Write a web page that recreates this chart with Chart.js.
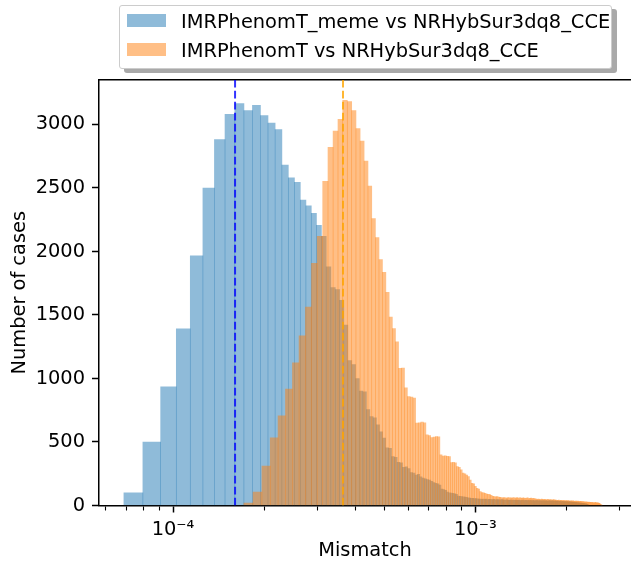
<!DOCTYPE html>
<html>
<head>
<meta charset="utf-8">
<script src="https://cdn.jsdelivr.net/npm/chart.js@4.4.0/dist/chart.umd.min.js"></script>
<style>
    html, body { margin: 0; padding: 0; background: #fff; }
    #wrap { position: relative; width: 631px; height: 565px; }
    #legend {
        position: absolute; left: 119px; top: 5px; width: 491px; height: 62px;
        border: 1px solid #cccccc; border-radius: 3px; background: #fff;
        box-shadow: 5px 4px 0 #a9a9a9;
        font-family: "DejaVu Sans"; font-size: 19.4px; color: #000;
    }
    .swatch { position: absolute; left: 7px; width: 39px; height: 13px; }
    .text { position: absolute; left: 61px; line-height: 24px; white-space: nowrap; }
</style>
</head>
<body>
<div id="wrap">
    <canvas id="chartMismatch" width="631" height="565"></canvas>
    <div id="legend"></div>
</div>
<script>
// histogram bins (linear bins, shown on a log axis)
const blueStart = 6.82e-5;
const blueWidth = 1.15e-5;
const blueCounts = [
    100, 500, 935, 1390, 1965, 2500, 2880, 3080, 3165, 3110,
    3150, 3070, 3010, 2960, 2680, 2580, 2545, 2405, 2360, 2300,
    2205, 2120, 1880, 1715, 1700, 1615, 1420, 1140, 1110, 1000,
    900, 895, 755, 700, 690, 635, 580, 530, 455, 450,
    385, 380, 340, 335, 300, 305, 290, 260, 255, 240,
    245, 225, 215, 210, 205, 200, 190, 180, 175, 170,
    160, 130, 125, 120, 105, 100, 98, 95, 92, 88,
    75, 72, 70, 68, 66, 64, 60, 58, 57, 56,
    55, 54, 52, 50, 51, 49, 50, 48, 50, 47,
    49, 48, 46, 47, 48, 45, 46, 47, 44, 45,
    46, 44, 43, 42, 44, 43, 41, 42, 43, 40,
    42, 41, 43, 40, 41, 42, 39, 41, 40, 42,
    39, 40, 41, 38, 40, 39, 41, 38, 39, 40,
    37, 39, 38, 40, 37, 38, 39, 36, 38, 37,
    39, 36, 37, 38, 35, 37, 36, 38, 35, 36,
    37, 36, 35, 34, 36, 33, 34, 35, 32, 33,
    34, 31, 32, 33, 30, 31, 32, 29, 30, 31,
    28, 29, 30, 27, 28, 26, 27, 25, 26, 24,
    25, 23, 24, 22, 23, 21, 22, 20, 19, 20,
    18, 17, 18, 16, 15, 14, 13, 12, 10, 8
];

const orangeStart = 1.712e-4;
const orangeWidth = 1.287e-5;
const orangeCounts = [
    20, 106, 311, 532, 706, 916, 1124, 1336, 1563, 1907,
    2120, 2553, 2819, 2948, 3040, 3189, 3181, 3110, 2968, 2869,
    2711, 2514, 2258, 2109, 1936, 1836, 1678, 1484, 1392, 1289,
    1079, 1082, 926, 858, 853, 845, 648, 650, 656, 650,
    556, 550, 535, 538, 543, 540, 398, 390, 392, 388,
    385, 337, 340, 335, 306, 300, 280, 255, 250, 240,
    227, 200, 175, 170, 150, 136, 130, 110, 101, 100,
    95, 90, 88, 86, 80, 72, 70, 68, 70, 66,
    64, 62, 60, 63, 61, 59, 62, 60, 61, 58,
    63, 60, 59, 62, 58, 60, 61, 57, 60, 59,
    56, 58, 60, 55, 57, 59, 54, 56, 55, 52,
    50, 48, 51, 49, 47, 50, 48, 46, 49, 47,
    45, 48, 46, 44, 47, 45, 43, 46, 44, 42,
    43, 41, 40, 42, 39, 40, 41, 38, 39, 40,
    37, 39, 38, 36, 38, 37, 35, 37, 36, 34,
    36, 35, 33, 35, 34, 32, 34, 33, 31, 33,
    32, 30, 31, 30, 28, 29, 27, 28, 26, 27,
    25, 26, 25, 24, 25, 23, 24, 22, 23, 22,
    24, 23, 22, 22, 21, 20, 18, 15, 10, 5, 2
];

const seriesLabels = [
    "IMRPhenomT_meme vs NRHybSur3dq8_CCE",
    "IMRPhenomT vs NRHybSur3dq8_CCE",
];
const seriesColors = ["rgba(31, 119, 180, 0.5)", "rgba(255, 127, 14, 0.5)"];

// dashed vertical markers
const blueMedian = 1.604e-4;
const orangeMedian = 3.65e-4;

// axes
const xMin = 5.69e-5;
const xMax = 3.273e-3;
const yMax = 3350;
const yTicks = [0, 500, 1000, 1500, 2000, 2500, 3000];
const xMajorTicks = [1e-4, 1e-3];
const xMajorLabels = ["10\u207B\u2074", "10\u207B\u00B3"];
const xMinorTicks = [6e-5, 7e-5, 8e-5, 9e-5, 2e-4, 3e-4, 4e-4, 5e-4, 6e-4, 7e-4, 8e-4, 9e-4, 2e-3, 3e-3];

function binPoints(start, width, counts) {
    return counts.map((c, i) => ({ x: start + (i + 0.5) * width, y: c }));
}

function isMajor(v) {
    return xMajorTicks.indexOf(v) !== -1;
}

document.addEventListener("DOMContentLoaded", function () {
    Chart.defaults.font.family = "DejaVu Sans";
    Chart.defaults.font.size = 19.4;
    Chart.defaults.color = "#000";

    // same axis + same stack key: the two histograms overlap at full bin width
    const barStyle = {
        type: "bar",
        stack: "hist",
        borderWidth: 0,
        barThickness: "flex",
        categoryPercentage: 1,
        barPercentage: 1,
        xAxisID: "x",
        yAxisID: "y",
    };

    new Chart(document.getElementById("chartMismatch"), {
        type: "bar",
        data: {
            datasets: [
                Object.assign({}, barStyle, {
                    label: seriesLabels[0],
                    data: binPoints(blueStart, blueWidth, blueCounts),
                    backgroundColor: seriesColors[0],
                    order: 2,
                }),
                Object.assign({}, barStyle, {
                    label: seriesLabels[1],
                    data: binPoints(orangeStart, orangeWidth, orangeCounts),
                    backgroundColor: seriesColors[1],
                    order: 1,
                }),
                {
                    type: "line",
                    data: [{ x: blueMedian, y: 0 }, { x: blueMedian, y: yMax }],
                    borderColor: "rgba(0, 0, 255, 0.8)",
                    borderWidth: 2,
                    borderDash: [7.7, 3.3],
                    pointRadius: 0,
                    xAxisID: "x",
                    yAxisID: "y",
                    order: 0,
                },
                {
                    type: "line",
                    data: [{ x: orangeMedian, y: 0 }, { x: orangeMedian, y: yMax }],
                    borderColor: "rgba(255, 165, 0, 0.8)",
                    borderWidth: 2,
                    borderDash: [7.7, 3.3],
                    pointRadius: 0,
                    xAxisID: "x",
                    yAxisID: "y",
                    order: 0,
                },
            ],
        },
        options: {
            responsive: false,
            animation: false,
            devicePixelRatio: 1,
            events: [],
            layout: { padding: { top: 80, left: 0, right: 0, bottom: 0 } },
            plugins: {
                legend: { display: false },
                tooltip: { enabled: false },
            },
            scales: {
                x: {
                    type: "logarithmic",
                    position: "bottom",
                    min: xMin,
                    max: xMax,
                    bounds: "data",
                    offset: false,
                    stacked: true,
                    afterFit: (s) => { s.height = 59.5; },
                    afterBuildTicks: (s) => {
                        s.ticks = xMinorTicks.concat(xMajorTicks)
                            .sort((a, b) => a - b)
                            .map((v) => ({ value: v }));
                    },
                    grid: {
                        offset: false,
                        drawOnChartArea: false,
                        tickLength: 7,
                        tickColor: "#000",
                        tickWidth: (ctx) => (ctx.tick && isMajor(ctx.tick.value) ? 1.5 : 1.1),
                        tickBorderDash: (ctx) => (ctx.tick && isMajor(ctx.tick.value) ? [] : [4, 20]),
                    },
                    border: { color: "#000", width: 1.5 },
                    ticks: {
                        autoSkip: false,
                        maxRotation: 0,
                        padding: 6,
                        callback: function (value) {
                            const k = xMajorTicks.indexOf(value);
                            return k === -1 ? "" : xMajorLabels[k];
                        },
                    },
                    title: {
                        display: true,
                        text: "Mismatch",
                        padding: { top: 4, bottom: 2 },
                    },
                },
                // top spine only
                xTop: {
                    type: "logarithmic",
                    position: "top",
                    min: xMin,
                    max: xMax,
                    bounds: "data",
                    offset: false,
                    afterFit: (s) => { s.height = 0; },
                    grid: { display: false, drawTicks: false, offset: false },
                    ticks: { display: false },
                    border: { display: true, color: "#000", width: 1.5 },
                },
                y: {
                    type: "linear",
                    min: 0,
                    max: yMax,
                    bounds: "data",
                    stacked: false,
                    afterFit: (s) => { s.width = 99; },
                    afterBuildTicks: (s) => {
                        s.ticks = yTicks.map((v) => ({ value: v }));
                    },
                    grid: {
                        drawOnChartArea: false,
                        tickLength: 7,
                        tickWidth: 1.5,
                        tickColor: "#000",
                    },
                    border: { color: "#000", width: 1.5 },
                    ticks: {
                        padding: 7,
                        callback: (value) => String(value),
                    },
                    title: {
                        display: true,
                        text: "Number of cases",
                        padding: { top: 8, bottom: 0 },
                    },
                },
            },
        },
    });

    // legend box (matplotlib style, with shadow)
    const legend = document.getElementById("legend");
    const rowTops = [8, 37];
    seriesLabels.forEach(function (label, i) {
        const sw = document.createElement("div");
        sw.className = "swatch";
        sw.style.top = rowTops[i] + "px";
        sw.style.background = seriesColors[i];
        legend.appendChild(sw);

        const tx = document.createElement("div");
        tx.className = "text";
        tx.style.top = (rowTops[i] - 4) + "px";
        tx.textContent = label;
        legend.appendChild(tx);
    });
});
</script>
</body>
</html>
